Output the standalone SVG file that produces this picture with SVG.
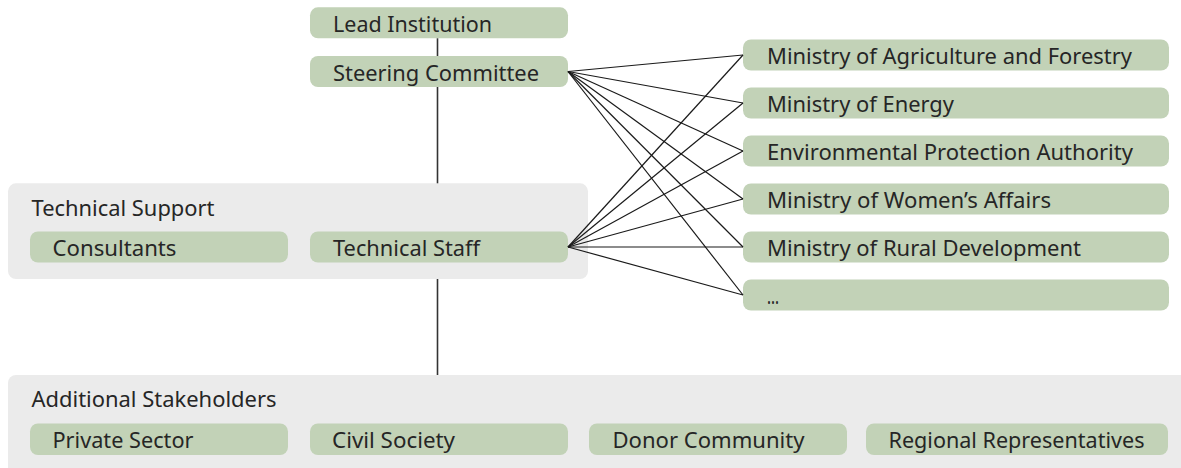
<svg xmlns="http://www.w3.org/2000/svg" width="1181" height="468" viewBox="0 0 1181 468">
<style>
.grp{fill:#ebebeb}
.pill{fill:#c2d2b7}
.t{font-family:"Noto Sans","Open Sans","DejaVu Sans",sans-serif;font-size:22px;fill:#262626}
.ln{stroke:#1a1a1a;stroke-width:1.2;fill:none}
.vl{stroke:#333333;stroke-width:1.6;fill:none}
</style>
<rect width="1181" height="468" fill="#ffffff"/>
<g id="lead-institution">
<rect class="pill" x="310" y="7.3" width="258" height="31" rx="8"/>
<text class="t" x="333" y="31.5" textLength="159" lengthAdjust="spacingAndGlyphs">Lead Institution</text>
</g>
<g id="steering-committee">
<rect class="pill" x="310" y="56" width="258" height="31" rx="8"/>
<text class="t" x="333" y="80.5" textLength="206" lengthAdjust="spacingAndGlyphs">Steering Committee</text>
</g>
<g id="technical-support">
<rect class="grp" x="8" y="183.3" width="580" height="95.7" rx="8"/>
<text class="t" x="31.5" y="215.7" textLength="183" lengthAdjust="spacingAndGlyphs">Technical Support</text>
</g>
<g id="consultants">
<rect class="pill" x="30" y="231.5" width="258" height="31" rx="8"/>
<text class="t" x="52.5" y="256" textLength="124" lengthAdjust="spacingAndGlyphs">Consultants</text>
</g>
<g id="technical-staff">
<rect class="pill" x="310" y="231.5" width="258" height="31" rx="8"/>
<text class="t" x="333" y="256" textLength="147" lengthAdjust="spacingAndGlyphs">Technical Staff</text>
</g>
<g id="ministry-agriculture">
<rect class="pill" x="743" y="39.5" width="426" height="31" rx="8"/>
<text class="t" x="767" y="64" textLength="365" lengthAdjust="spacingAndGlyphs">Ministry of Agriculture and Forestry</text>
</g>
<g id="ministry-energy">
<rect class="pill" x="743" y="87.5" width="426" height="31" rx="8"/>
<text class="t" x="767" y="112" textLength="187" lengthAdjust="spacingAndGlyphs">Ministry of Energy</text>
</g>
<g id="epa">
<rect class="pill" x="743" y="135.5" width="426" height="31" rx="8"/>
<text class="t" x="767" y="160" textLength="366" lengthAdjust="spacingAndGlyphs">Environmental Protection Authority</text>
</g>
<g id="ministry-women">
<rect class="pill" x="743" y="183.5" width="426" height="31" rx="8"/>
<text class="t" x="767" y="208" textLength="284" lengthAdjust="spacingAndGlyphs">Ministry of Women’s Affairs</text>
</g>
<g id="ministry-rural">
<rect class="pill" x="743" y="231.5" width="426" height="31" rx="8"/>
<text class="t" x="767" y="256" textLength="314" lengthAdjust="spacingAndGlyphs">Ministry of Rural Development</text>
</g>
<g id="ministry-more">
<rect class="pill" x="743" y="279.5" width="426" height="31" rx="8"/>
<text class="t" x="767" y="304" textLength="12" lengthAdjust="spacingAndGlyphs">...</text>
</g>
<g id="additional-stakeholders">
<rect class="grp" x="8" y="375" width="1190" height="110" rx="8"/>
<text class="t" x="31.5" y="407" textLength="245" lengthAdjust="spacingAndGlyphs">Additional Stakeholders</text>
</g>
<g id="private-sector">
<rect class="pill" x="30" y="423.5" width="258" height="31.5" rx="8"/>
<text class="t" x="52.5" y="448" textLength="141" lengthAdjust="spacingAndGlyphs">Private Sector</text>
</g>
<g id="civil-society">
<rect class="pill" x="310" y="423.5" width="258" height="31.5" rx="8"/>
<text class="t" x="332" y="448" textLength="123" lengthAdjust="spacingAndGlyphs">Civil Society</text>
</g>
<g id="donor-community">
<rect class="pill" x="589" y="423.5" width="258" height="31.5" rx="8"/>
<text class="t" x="612.5" y="448" textLength="192" lengthAdjust="spacingAndGlyphs">Donor Community</text>
</g>
<g id="regional-representatives">
<rect class="pill" x="866" y="423.5" width="302" height="31.5" rx="8"/>
<text class="t" x="888.5" y="448" textLength="256" lengthAdjust="spacingAndGlyphs">Regional Representatives</text>
</g>
<g id="connectors">
<line class="vl" x1="437.5" y1="38.3" x2="437.5" y2="56"/>
<line class="vl" x1="437.5" y1="87" x2="437.5" y2="183.3"/>
<line class="vl" x1="437.5" y1="279" x2="437.5" y2="375"/>
<g class="ln">
<line x1="568" y1="71.5" x2="743" y2="55"/>
<line x1="568" y1="71.5" x2="743" y2="103"/>
<line x1="568" y1="71.5" x2="743" y2="151"/>
<line x1="568" y1="71.5" x2="743" y2="199"/>
<line x1="568" y1="71.5" x2="743" y2="247"/>
<line x1="568" y1="71.5" x2="743" y2="295"/>
<line x1="568" y1="247" x2="743" y2="55"/>
<line x1="568" y1="247" x2="743" y2="103"/>
<line x1="568" y1="247" x2="743" y2="151"/>
<line x1="568" y1="247" x2="743" y2="199"/>
<line x1="568" y1="247" x2="743" y2="247"/>
<line x1="568" y1="247" x2="743" y2="295"/>
</g>
</g>
</svg>
